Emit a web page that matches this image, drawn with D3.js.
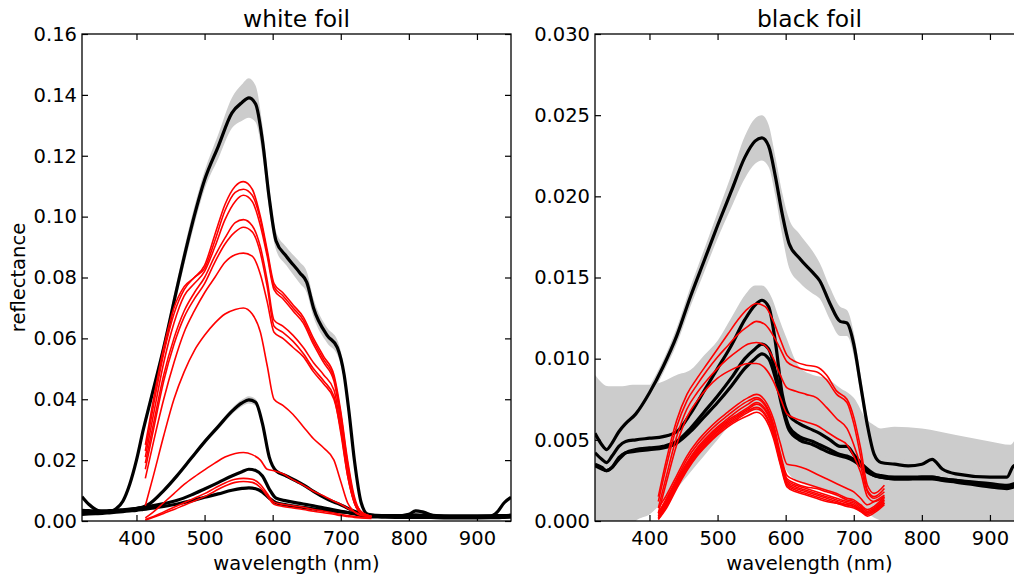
<!DOCTYPE html>
<html>
<head>
<meta charset="utf-8">
<script src="https://cdn.jsdelivr.net/npm/d3@7"></script>
<style>
body { margin: 0; background: #fff; }
text { font-family: "DejaVu Sans", sans-serif; fill: #000; }
</style>
</head>
<body>
<div id="chart"></div>
<script>

// ---- white foil: mean spectra (black) on one wavelength grid
var wlWhite = [320, 330, 340, 350, 360, 370, 380, 390, 400, 410, 420, 440, 460, 480, 500, 520, 540, 555, 565, 575,
    585, 595, 605, 620, 640, 650, 660, 680, 695, 705, 712, 720, 730, 740, 760, 790, 800, 810, 820, 840, 880, 920, 930, 940, 950];
var white1 = [.0080, .0055, .0038, .0030, .0030, .0040, .0065, .0120, .0200, .0300, .0390, .0570, .0770, .0960, .1120, .1230, .1340, .1375, .1390, .1370,
    .1250, .1060, .0920, .0870, .0815, .0785, .0700, .0610, .0570, .0480, .0360, .0200, .0060, .0022, .0018, .0018, .0022, .0033, .0030, .0016, .0014, .0016, .0030, .0060, .0078];
var white1Sd = [.0005, .0005, .0005, .0005, .0005, .0005, .0007, .0010, .0012, .0015, .0015, .0020, .0025, .0030, .0030, .0040, .0050, .0060, .0065, .0060,
    .0050, .0040, .0030, .0030, .0035, .0035, .0030, .0025, .0025, .0020, .0015, .0010, .0008, .0005, .0005, .0005, .0005, .0005, .0005, .0005, .0005, .0005, .0005, .0005, .0005];
var white2 = [.0030, .0030, .0030, .0031, .0032, .0033, .0035, .0037, .0040, .0046, .0058, .0100, .0150, .0205, .0260, .0310, .0360, .0388, .0398, .0390,
    .0320, .0210, .0165, .0148, .0125, .0112, .0097, .0072, .0058, .0048, .0040, .0032, .0024, .0018, .0016, .0016, .0016, .0016, .0015, .0014, .0012, .0012, .0013, .0014, .0015];
var white2Sd = [.0003, .0003, .0003, .0003, .0003, .0003, .0003, .0003, .0003, .0003, .0004, .0005, .0006, .0007, .0008, .0009, .0010, .0011, .0012, .0011,
    .0009, .0007, .0006, .0005, .0005, .0005, .0004, .0004, .0004, .0003, .0003, .0003, .0003, .0003, .0003, .0003, .0003, .0003, .0003, .0003, .0003, .0003, .0003, .0003, .0003];
var white3 = [.0035, .0034, .0033, .0033, .0034, .0035, .0037, .0039, .0042, .0045, .0049, .0057, .0068, .0085, .0105, .0126, .0148, .0162, .0170, .0166,
    .0148, .0105, .0075, .0066, .0058, .0054, .0050, .0041, .0034, .0030, .0027, .0024, .0020, .0018, .0018, .0018, .0019, .0020, .0019, .0018, .0017, .0017, .0018, .0018, .0019];
var white4 = [.0022, .0023, .0024, .0025, .0027, .0029, .0031, .0033, .0035, .0038, .0041, .0048, .0056, .0066, .0078, .0089, .0101, .0107, .0109, .0106,
    .0095, .0075, .0060, .0053, .0046, .0043, .0040, .0035, .0031, .0029, .0027, .0024, .0018, .0014, .0013, .0012, .0012, .0012, .0012, .0011, .0010, .0011, .0011, .0012, .0013];

// ---- single measurements (red), both panels
var wlRed = [413, 425, 440, 455, 470, 485, 500, 515, 530, 545, 557, 570, 582, 592, 602, 615, 630, 645, 660, 675, 690, 700, 710, 720, 730, 745];
var whiteRed = [
    [.025, .040, .057, .070, .077, .080, .084, .094, .104, .110, .1115, .109, .100, .089, .078, .075, .071, .067, .060, .054, .048, .036, .020, .008, .003, .0015],
    [.023, .038, .055, .068, .076, .080, .083, .092, .102, .108, .109, .107, .099, .088, .077, .074, .070, .066, .059, .053, .047, .035, .019, .007, .003, .0015],
    [.021, .035, .052, .065, .074, .078, .082, .090, .099, .105, .107, .105, .097, .087, .076, .073, .069, .065, .058, .052, .046, .033, .018, .007, .003, .0015],
    [.019, .032, .048, .060, .069, .075, .080, .087, .093, .098, .099, .097, .090, .079, .066, .064, .061, .057, .052, .048, .043, .031, .016, .006, .0025, .0015],
    [.017, .030, .046, .058, .067, .073, .078, .085, .091, .095, .0965, .095, .088, .077, .064, .062, .059, .055, .050, .046, .041, .029, .015, .006, .0025, .0015],
    [.014, .026, .040, .052, .062, .069, .075, .080, .085, .0875, .088, .087, .081, .072, .062, .060, .057, .054, .049, .045, .040, .030, .015, .006, .0025, .0015],
    [.005, .015, .028, .040, .049, .056, .061, .065, .068, .0695, .070, .068, .062, .051, .040, .038, .035, .031, .027, .024, .020, .013, .006, .003, .0018, .0015],
    [.001, .003, .006, .009, .012, .0145, .0168, .019, .021, .0222, .0225, .0218, .020, .017, .0165, .0155, .0135, .0118, .0098, .0082, .0065, .0055, .0042, .003, .002, .0015],
    [.0005, .0015, .003, .0045, .006, .0075, .009, .0108, .0125, .0137, .014, .0137, .012, .009, .0062, .0055, .005, .0045, .0038, .0032, .0026, .0022, .0018, .0015, .0012, .0010],
    [.0003, .0012, .0025, .0038, .0052, .0066, .008, .0098, .0115, .0127, .013, .0127, .011, .0082, .0055, .0048, .0043, .0038, .0032, .0027, .0022, .0018, .0015, .0012, .001, .0008]
];

// ---- black foil: mean spectra (black)
var wlBlack = [320, 330, 337, 345, 355, 365, 380, 400, 420, 440, 460, 480, 500, 520, 540, 555, 565, 575, 585, 595, 605,
    620, 640, 650, 665, 680, 690, 700, 710, 720, 730, 740, 760, 780, 800, 815, 830, 850, 900, 925, 935, 950];
var black1 = [.0054, .0047, .0044, .0048, .0055, .0060, .0066, .0079, .0095, .0114, .0138, .0160, .0182, .0203, .0224, .0234, .0236, .0231, .0212, .0189, .0171,
    .0162, .0153, .0148, .0134, .0123, .0122, .0109, .0084, .0059, .0041, .0036, .0035, .0034, .0035, .0038, .0032, .0029, .0027, .0027, .0034, .0035];
var black1Sd = [.0004, .0004, .0004, .0004, .0004, .0004, .0004, .0004, .0004, .0005, .0006, .0007, .0008, .0010, .0013, .0014, .0014, .0013, .0012, .0013, .0015,
    .0015, .0013, .0011, .0010, .0009, .0008, .0007, .0006, .0005, .0004, .0004, .0004, .0004, .0004, .0004, .0004, .0004, .0004, .0004, .0004, .0004];
var black2 = [.0042, .0038, .0036, .0040, .0046, .0049, .0050, .0051, .0052, .0055, .0066, .0080, .0094, .0108, .0124, .0133, .0136, .0132, .0110, .0078, .0065,
    .0060, .0056, .0054, .0050, .0046, .0046, .0041, .0036, .0032, .0029, .0028, .0027, .0027, .0027, .0027, .0026, .0025, .0023, .0022, .0023, .0026];
var black3 = [.0034, .0032, .0031, .0033, .0038, .0042, .0044, .0045, .0046, .0049, .0057, .0067, .0077, .0088, .0100, .0106, .0109, .0106, .0092, .0072, .0058,
    .0052, .0049, .0047, .0044, .0041, .0040, .0038, .0035, .0031, .0028, .0027, .0026, .0026, .0027, .0027, .0026, .0025, .0022, .0021, .0022, .0025];
var black4 = [.0035, .0033, .0031, .0033, .0039, .0042, .0043, .0044, .0045, .0048, .0055, .0064, .0073, .0083, .0094, .0100, .0103, .0100, .0088, .0070, .0056,
    .0050, .0047, .0045, .0042, .0040, .0039, .0037, .0034, .0030, .0028, .0027, .0026, .0026, .0026, .0026, .0025, .0024, .0021, .0020, .0021, .0024];

// wide grey spread behind the lower black foil curves
var wlGrey = [320, 340, 360, 375, 380, 400, 420, 440, 460, 480, 500, 520, 540, 555, 565, 580, 590, 600, 620, 640, 660, 680, 700, 720, 730, 740, 760, 800, 850, 900, 930, 940, 950];
var greyTop = [.0090, .0083, .0083, .0084, .0084, .0084, .0086, .0090, .0093, .0102, .0111, .0125, .0139, .0145, .0145, .0137, .0125, .0114, .0095, .0090, .0088, .0082, .0076, .0062, .0059, .0057, .0058, .0057, .0053, .0049, .0047, .0051, .0051];
var greyBottom = [-.001, -.001, -.001, -.0005, 0, .0004, .0012, .0020, .0030, .0040, .0050, .0060, .0066, .0068, .0067, .0056, .0045, .0032, .0024, .0021, .0018, .0014, .0010, .0005, .0002, 0, -.001, -.001, -.001, -.001, -.001, -.001, -.001];

var blackRed = [
    [.0015, .0038, .0062, .0078, .0088, .0097, .0106, .0115, .0124, .0131, .0134, .0132, .0123, .0112, .0102, .0098, .0096, .0095, .0090, .0080, .0075, .0064, .0045, .0022, .0017, .0022],
    [.0012, .0034, .0058, .0074, .0084, .0093, .0101, .0108, .0115, .0120, .0123, .0121, .0114, .0106, .0098, .0095, .0093, .0092, .0087, .0078, .0073, .0060, .0040, .0019, .0015, .0020],
    [.0008, .0028, .0052, .0069, .0079, .0087, .0094, .0100, .0105, .0109, .0110, .0108, .0100, .0090, .0082, .0080, .0078, .0076, .0070, .0063, .0057, .0047, .0034, .0018, .0014, .0018],
    [.0005, .0024, .0047, .0064, .0074, .0082, .0088, .0092, .0095, .0097, .0097, .0094, .0086, .0076, .0066, .0063, .0061, .0059, .0055, .0051, .0047, .0040, .0030, .0015, .0012, .0015],
    [.0008, .0016, .0028, .0040, .0049, .0056, .0062, .0067, .0072, .0076, .0078, .0074, .0063, .0048, .0035, .0034, .0032, .0029, .0026, .0023, .0020, .0018, .0014, .0010, .0012, .0016],
    [.0005, .0014, .0026, .0038, .0047, .0054, .0060, .0065, .0070, .0074, .0076, .0072, .0060, .0042, .0028, .0025, .0023, .0021, .0019, .0017, .0014, .0013, .0010, .0007, .0009, .0015],
    [.0004, .0013, .0025, .0036, .0045, .0052, .0058, .0063, .0068, .0072, .0075, .0071, .0058, .0040, .0026, .0023, .0021, .0020, .0018, .0016, .0013, .0012, .0009, .0006, .0008, .0014],
    [.0003, .0012, .0024, .0035, .0044, .0051, .0057, .0062, .0066, .0070, .0073, .0069, .0057, .0039, .0025, .0022, .0020, .0018, .0016, .0014, .0012, .0011, .0008, .0005, .0007, .0013],
    [.0002, .0011, .0023, .0034, .0043, .0050, .0056, .0061, .0065, .0069, .0072, .0068, .0056, .0038, .0024, .0021, .0019, .0017, .0015, .0013, .0011, .0010, .0007, .0005, .0007, .0012],
    [.0002, .0010, .0022, .0033, .0042, .0049, .0055, .0060, .0064, .0068, .0070, .0066, .0054, .0037, .0023, .0020, .0018, .0016, .0014, .0012, .0010, .0009, .0007, .0004, .0006, .0011],
    [.0001, .0009, .0021, .0032, .0041, .0048, .0054, .0059, .0063, .0067, .0069, .0065, .0053, .0036, .0022, .0019, .0017, .0015, .0013, .0011, .0010, .0009, .0006, .0004, .0006, .0011],
    [.0001, .0008, .0020, .0031, .0040, .0047, .0053, .0058, .0062, .0065, .0067, .0063, .0051, .0035, .0021, .0018, .0016, .0014, .0012, .0011, .0009, .0008, .0006, .0003, .0005, .0010]
];

var xTicks = [400, 500, 600, 700, 800, 900];
var whiteYTicks = [0, 0.02, 0.04, 0.06, 0.08, 0.10, 0.12, 0.14, 0.16];
var blackYTicks = [0, 0.005, 0.010, 0.015, 0.020, 0.025, 0.030];

var plotTop = 34, plotBottom = 521, plotWidth = 429;
var grey = "#cccccc";

var svg = d3.select("#chart")
    .append("svg")
    .attr("width", 1014)
    .attr("height", 581);

var zip = function(wl, vals) {
    return wl.map(function(w, i) { return [w, vals[i]]; });
};

// one axes box with clipped plotting group
var createPanel = function(id, left, yMax) {
    var x = d3.scaleLinear().domain([320, 950]).range([left, left + plotWidth]);
    var y = d3.scaleLinear().domain([0, yMax]).range([plotBottom, plotTop]);

    svg.append("clipPath").attr("id", id)
        .append("rect")
        .attr("x", left).attr("y", plotTop)
        .attr("width", plotWidth).attr("height", plotBottom - plotTop);

    var plot = svg.append("g").attr("clip-path", "url(#" + id + ")");
    return {x: x, y: y, plot: plot, left: left};
};

var drawBand = function(p, wl, lo, hi) {
    var area = d3.area()
        .x(function(d) { return p.x(d[0]); })
        .y0(function(d) { return p.y(d[1]); })
        .y1(function(d) { return p.y(d[2]); })
        .curve(d3.curveMonotoneX);
    p.plot.append("path")
        .datum(wl.map(function(w, i) { return [w, lo[i], hi[i]]; }))
        .attr("d", area)
        .attr("fill", grey)
        .attr("stroke", "none");
};

var drawSdBand = function(p, wl, mean, sd) {
    drawBand(p, wl,
        mean.map(function(v, i) { return v - sd[i]; }),
        mean.map(function(v, i) { return v + sd[i]; }));
};

var drawLine = function(p, wl, vals, color, w) {
    var line = d3.line()
        .x(function(d) { return p.x(d[0]); })
        .y(function(d) { return p.y(d[1]); })
        .curve(d3.curveMonotoneX);
    p.plot.append("path")
        .datum(zip(wl, vals))
        .attr("d", line)
        .attr("fill", "none")
        .attr("stroke", color)
        .attr("stroke-width", w)
        .attr("stroke-linejoin", "round");
};

var drawAxes = function(p, yTicks, yFormat, title) {
    var right = p.left + plotWidth;

    var styleAxis = function(g) {
        g.attr("font-size", 19.5).attr("font-family", "DejaVu Sans");
        g.select(".domain").remove();
        g.selectAll(".tick line").attr("stroke", "#000").attr("stroke-width", 1.2);
        g.selectAll(".tick text").attr("fill", "#000");
    };

    svg.append("g").attr("transform", "translate(0," + plotBottom + ")")
        .call(d3.axisBottom(p.x).tickValues(xTicks).tickSize(-6).tickPadding(10).tickFormat(d3.format("d")))
        .call(styleAxis);
    svg.append("g").attr("transform", "translate(0," + plotTop + ")")
        .call(d3.axisTop(p.x).tickValues(xTicks).tickSize(-6).tickFormat(""))
        .call(styleAxis);
    svg.append("g").attr("transform", "translate(" + p.left + ",0)")
        .call(d3.axisLeft(p.y).tickValues(yTicks).tickSize(-6).tickPadding(5).tickFormat(d3.format(yFormat)))
        .call(styleAxis);
    svg.append("g").attr("transform", "translate(" + right + ",0)")
        .call(d3.axisRight(p.y).tickValues(yTicks).tickSize(-6).tickFormat(""))
        .call(styleAxis);

    svg.append("rect")
        .attr("x", p.left).attr("y", plotTop)
        .attr("width", plotWidth).attr("height", plotBottom - plotTop)
        .attr("fill", "none")
        .attr("stroke", "#000")
        .attr("stroke-width", 1.3);

    svg.append("text").text(title)
        .attr("x", p.left + plotWidth / 2).attr("y", 27)
        .attr("text-anchor", "middle")
        .style("font-size", "23.4px");

    svg.append("text").text("wavelength (nm)")
        .attr("x", p.left + plotWidth / 2).attr("y", 570)
        .attr("text-anchor", "middle")
        .style("font-size", "19.5px");
};

// white foil
var pw = createPanel("clipWhite", 82, 0.16);
drawSdBand(pw, wlWhite, white1, white1Sd);
drawSdBand(pw, wlWhite, white2, white2Sd);
[white1, white2, white3, white4].forEach(function(s) {
    drawLine(pw, wlWhite, s, "#000", 3.2);
});
whiteRed.forEach(function(s) {
    drawLine(pw, wlRed, s, "#ff0000", 1.6);
});
drawAxes(pw, whiteYTicks, ".2f", "white foil");

svg.append("text").text("reflectance")
    .attr("transform", "translate(25," + ((plotTop + plotBottom) / 2) + ") rotate(-90)")
    .attr("text-anchor", "middle")
    .style("font-size", "19.5px");

// black foil
var pb = createPanel("clipBlack", 595, 0.030);
drawBand(pb, wlGrey, greyBottom, greyTop);
drawSdBand(pb, wlBlack, black1, black1Sd);
[black1, black2, black3, black4].forEach(function(s) {
    drawLine(pb, wlBlack, s, "#000", 3.2);
});
blackRed.forEach(function(s) {
    drawLine(pb, wlRed, s, "#ff0000", 1.6);
});
drawAxes(pb, blackYTicks, ".3f", "black foil");

</script>
</body>
</html>
